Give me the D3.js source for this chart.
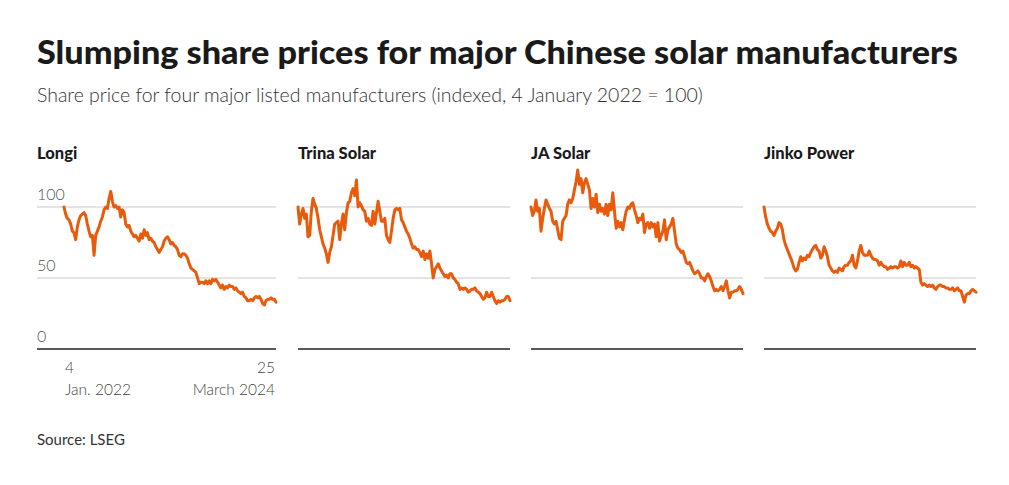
<!DOCTYPE html>
<html>
<head>
<meta charset="utf-8">
<script src="https://cdn.jsdelivr.net/npm/d3@7"></script>
<style>
  html, body { margin: 0; padding: 0; background: #fff; }
  svg { display: block; }
</style>
</head>
<body>
<svg id="chart" width="1009" height="485"></svg>
<script>
const titleText = "Slumping share prices for major Chinese solar manufacturers";
const subtitleText = "Share price for four major listed manufacturers (indexed, 4 January 2022 = 100)";
const sourceText = "Source: LSEG";

const companies = ["Longi", "Trina Solar", "JA Solar", "Jinko Power"];
const yTicks = [0, 50, 100];
const xTickTop = ["4", "25"];
const xTickBottom = ["Jan. 2022", "March 2024"];

const longi = [100,95,92,91,88,83,82,77,86,91,94,95,96,94,88,83,79,80,66,80,83,86,90,93,98,100,99,106,111,104,100,101,99,100,93,98,96,88,86,87,83,81,79,80,78,76,81,78,84,80,82,77,78,76,75,72,70,68,70,72,76,78,79,77,74,75,73,72,70,66,65,67,67,66,64,60,57,56,55,54,50,46,47,47,46,48,46,48,46,49,48,49,47,45,43,45,42,44,43,45,44,44,42,43,41,40,39,40,37,36,34,34,35,34,36,37,36,37,35,32,31,34,35,35,36,35,35,33];
const trina = [100,88,95,99,92,95,79,80,97,106,102,99,92,84,79,74,71,67,61,68,72,80,88,89,90,77,88,95,84,96,103,104,110,113,108,119,100,103,101,98,97,90,92,88,87,97,88,96,104,97,90,90,92,80,77,75,83,92,98,99,98,99,91,89,86,83,81,78,74,71,72,70,70,68,65,69,63,67,64,69,60,50,56,58,60,57,55,53,51,52,50,53,53,50,49,47,46,42,43,42,43,42,40,41,42,42,43,41,40,39,37,35,36,40,37,37,40,37,34,32,34,33,34,34,35,37,37,34];
const jaSolar = [100,94,97,105,97,99,83,92,99,105,102,99,97,90,88,90,84,78,77,90,92,94,102,105,103,106,112,118,126,116,120,110,117,120,116,112,99,106,100,109,96,102,97,99,95,102,94,102,98,110,97,85,90,86,89,84,91,97,100,99,102,103,98,94,89,92,91,95,82,88,89,85,89,86,88,79,89,76,80,83,91,77,84,86,88,92,83,74,71,70,68,69,65,61,60,61,58,55,53,54,55,53,50,50,48,51,53,51,48,44,41,42,41,42,44,41,44,48,41,36,40,40,41,41,42,44,42,39];
const jinko = [100,93,88,85,83,82,80,83,85,89,88,84,77,73,70,67,64,61,57,55,56,61,65,62,64,63,66,65,68,70,72,73,70,69,64,66,72,69,65,59,57,55,54,55,54,57,56,55,58,59,59,61,62,66,59,57,62,69,73,68,66,66,66,69,66,64,63,63,62,59,61,59,58,58,56,57,58,57,58,58,57,58,62,58,61,59,59,61,58,59,57,58,57,56,47,45,46,45,44,45,44,45,43,42,44,45,45,44,44,43,43,42,42,43,41,42,43,41,41,37,33,38,39,39,41,42,41,40];

const seriesValues = [longi, trina, jaSolar, jinko];

const svg = d3.select("#chart");
const FONT = "Lato, 'Source Sans Pro', 'Noto Sans', sans-serif";
const lineColor = "#e85a0c";

// layout
const panelLefts = [37, 298, 531, 764];
const plotLefts = [64, 298, 531, 764];
const plotWidth = 212;
const yTop = 207, yBottom = 349;

function fitText(sel, target, maxSize) {
  let size = maxSize;
  sel.attr("font-size", size);
  let w = sel.node().getComputedTextLength();
  if (w > target) {
    size = size * target / w;
    sel.attr("font-size", size);
  }
  w = sel.node().getComputedTextLength();
  if (Math.abs(w - target) > 2) {
    sel.attr("textLength", target).attr("lengthAdjust", "spacingAndGlyphs");
  }
}

const t = svg.append("text")
  .attr("x", 37).attr("y", 64)
  .attr("font-family", FONT).attr("font-weight", 900)
  .attr("fill", "#1a1a1a")
  .text(titleText);
fitText(t, 921, 33);

const st = svg.append("text")
  .attr("x", 37).attr("y", 102)
  .attr("font-family", FONT).attr("font-weight", 300)
  .attr("fill", "#333")
  .text(subtitleText);
fitText(st, 666, 20);

const y = d3.scaleLinear().domain([0, 100]).range([yBottom, yTop]);

companies.forEach((name, i) => {
  const g = svg.append("g");
  const vals = seriesValues[i];
  const x = d3.scaleLinear().domain([0, vals.length - 1])
    .range([plotLefts[i], plotLefts[i] + plotWidth]);
  const gridLeft = panelLefts[i];
  const gridRight = plotLefts[i] + plotWidth;

  g.append("text")
    .attr("x", panelLefts[i]).attr("y", 159)
    .attr("font-family", FONT).attr("font-weight", 900)
    .attr("font-size", 16.5).attr("fill", "#1a1a1a")
    .text(name);

  g.selectAll("line.grid").data(yTicks).join("line")
    .attr("x1", gridLeft).attr("x2", gridRight)
    .attr("y1", d => y(d)).attr("y2", d => y(d))
    .attr("stroke", d => d === 0 ? "#222" : "#c8c8c8")
    .attr("stroke-width", d => d === 0 ? 1.5 : 1);

  if (i === 0) {
    g.selectAll("text.ytick").data(yTicks).join("text")
      .attr("x", gridLeft).attr("y", d => y(d) - 7)
      .attr("font-family", FONT).attr("font-weight", 300)
      .attr("font-size", 16).attr("fill", "#555")
      .text(d => d);

    const xl = g.append("g").attr("font-family", FONT).attr("font-weight", 300)
      .attr("font-size", 15.5).attr("fill", "#444");
    xl.append("text").attr("x", plotLefts[i] + 1).attr("y", 373).text(xTickTop[0]);
    xl.append("text").attr("x", plotLefts[i] + 1).attr("y", 395).text(xTickBottom[0]);
    xl.append("text").attr("x", gridRight - 1).attr("y", 373).attr("text-anchor", "end").text(xTickTop[1]);
    xl.append("text").attr("x", gridRight - 1).attr("y", 395).attr("text-anchor", "end").text(xTickBottom[1]);
  }

  const line = d3.line().x((d, k) => x(k)).y(d => y(d)).curve(d3.curveLinear);
  g.append("path").datum(vals)
    .attr("d", line)
    .attr("fill", "none")
    .attr("stroke", lineColor)
    .attr("stroke-width", 3)
    .attr("stroke-linejoin", "round")
    .attr("stroke-linecap", "round");
});

svg.append("text")
  .attr("x", 37).attr("y", 445)
  .attr("font-family", FONT).attr("font-size", 15)
  .attr("fill", "#333")
  .text(sourceText);
</script>
</body>
</html>
